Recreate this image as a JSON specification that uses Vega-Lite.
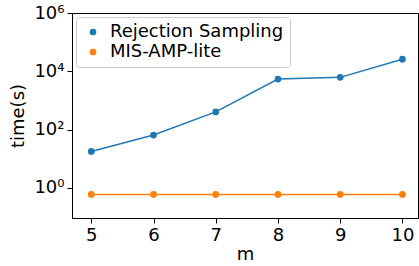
{
  "$schema": "https://vega.github.io/schema/vega-lite/v6.json",
  "width": 346,
  "height": 205,
  "autosize": {"type": "none"},
  "padding": {"left": 72, "top": 13, "right": 1, "bottom": 48},
  "background": "white",
  "config": {
    "font": "DejaVu Sans",
    "view": {"stroke": "black", "strokeWidth": 1},
    "axis": {"grid": false, "domainColor": "black", "tickColor": "black", "labelColor": "black", "titleColor": "black", "labelFontSize": 18, "titleFontSize": 18, "titleFontWeight": "normal", "tickSize": 5, "labelPadding": 3, "domainWidth": 1, "tickWidth": 1}
  },
  "data": {"values": [
    {"m": 5, "t": 17.8, "method": "Rejection Sampling"},
    {"m": 6, "t": 65, "method": "Rejection Sampling"},
    {"m": 7, "t": 405, "method": "Rejection Sampling"},
    {"m": 8, "t": 5400, "method": "Rejection Sampling"},
    {"m": 9, "t": 6200, "method": "Rejection Sampling"},
    {"m": 10, "t": 26000, "method": "Rejection Sampling"},
    {"m": 5, "t": 0.6, "method": "MIS-AMP-lite"},
    {"m": 6, "t": 0.6, "method": "MIS-AMP-lite"},
    {"m": 7, "t": 0.6, "method": "MIS-AMP-lite"},
    {"m": 8, "t": 0.6, "method": "MIS-AMP-lite"},
    {"m": 9, "t": 0.6, "method": "MIS-AMP-lite"},
    {"m": 10, "t": 0.6, "method": "MIS-AMP-lite"}
  ]},
  "encoding": {
    "x": {"field": "m", "type": "quantitative", "scale": {"domain": [4.69, 10.25], "nice": false, "zero": false},
      "axis": {"values": [5, 6, 7, 8, 9, 10], "title": "m", "titlePadding": 1, "format": "d"}},
    "y": {"field": "t", "type": "quantitative", "scale": {"type": "log", "domain": [0.093, 1000000], "nice": false},
      "axis": {"values": [1, 100, 10000, 1000000], "title": "time(s)", "titlePadding": 6,
        "labelExpr": "datum.value == 1 ? '10⁰' : datum.value == 100 ? '10²' : datum.value == 10000 ? '10⁴' : '10⁶'"}}
  },
  "layer": [
    {"mark": {"type": "line", "strokeWidth": 1.5},
      "encoding": {"stroke": {"field": "method", "type": "nominal", "legend": null,
        "scale": {"domain": ["Rejection Sampling", "MIS-AMP-lite"], "range": ["#1f77b4", "#ff7f0e"]}}}},
    {"mark": {"type": "point", "filled": true, "opacity": 1, "size": 45},
      "encoding": {"fill": {"field": "method", "type": "nominal",
        "scale": {"domain": ["Rejection Sampling", "MIS-AMP-lite"], "range": ["#1f77b4", "#ff7f0e"]},
        "legend": {"title": null, "orient": "none", "legendX": 4, "legendY": 4, "labelFontSize": 18, "labelLimit": 400, "labelColor": "black", "symbolType": "circle", "symbolSize": 45, "padding": 6, "rowPadding": 2, "labelOffset": 8, "fillColor": "white", "strokeColor": "#cccccc", "cornerRadius": 3, "symbolOffset": 2}}}}
  ],
  "resolve": {"scale": {"fill": "independent", "stroke": "independent"}}
}
